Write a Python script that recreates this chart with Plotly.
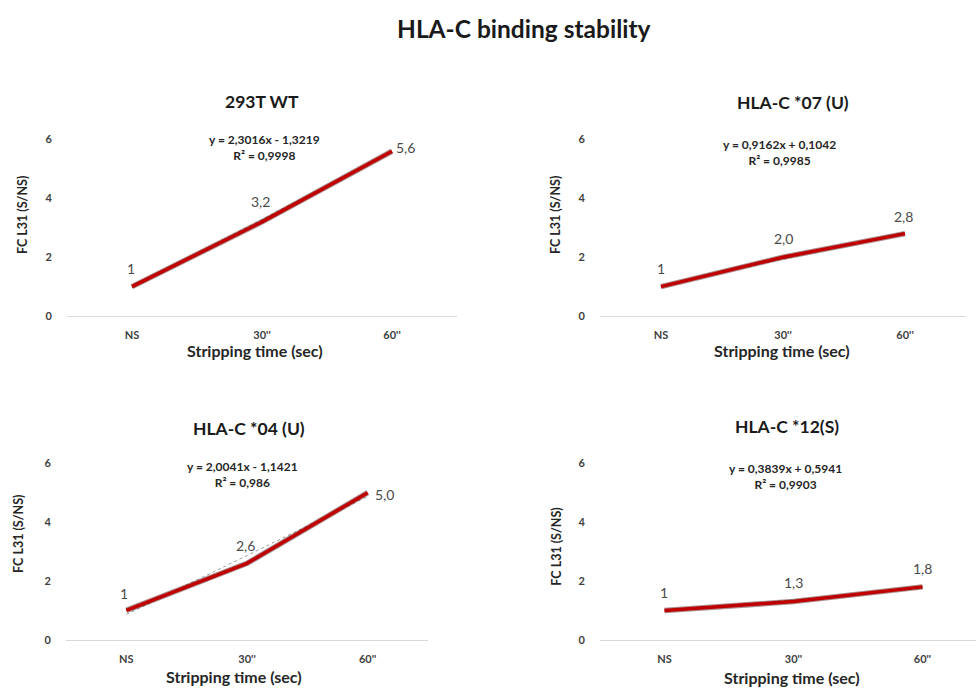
import plotly.graph_objects as go

W, H = 976, 691

categories = ["NS", "30''", "60''"]
panel_titles = ["293T WT", "HLA-C *07 (U)", "HLA-C *04 (U)", "HLA-C *12(S)"]
values_293T = [1, 3.2, 5.6]
values_c07 = [1, 2.0, 2.8]
values_c04 = [1, 2.6, 5.0]
values_c12 = [1, 1.3, 1.8]
labels_293T = ["1", "3,2", "5,6"]
labels_c07 = ["1", "2,0", "2,8"]
labels_c04 = ["1", "2,6", "5,0"]
labels_c12 = ["1", "1,3", "1,8"]
slopes = [2.3016, 0.9162, 2.0041, 0.3839]
intercepts = [-1.3219, 0.1042, -1.1421, 0.5941]
equations = ["y = 2,3016x - 1,3219", "y = 0,9162x + 0,1042",
             "y = 2,0041x - 1,1421", "y = 0,3839x + 0,5941"]
r2 = ["R² = 0,9998", "R² = 0,9985", "R² = 0,986", "R² = 0,9903"]
y_ticks = [0, 2, 4, 6]

series = [values_293T, values_c07, values_c04, values_c12]
labels = [labels_293T, labels_c07, labels_c04, labels_c12]

FONT = "Lato"
RED = "#C00000"
GRAY = "#4a4a4a"

# pixel layout per panel: x-left, x-right, y(0), y(6), x-range max
boxes = [
    (67, 457, 315, 135, 2.5),
    (600, 966, 315, 135, 2.5),
    (66, 428, 645, 465, 2.5),
    (600, 976, 645, 465, 2.415),
]
title_pos = [(262, 96), (793, 97), (249, 430), (787, 428)]
eq_pos = [(264, 143), (779, 148), (242, 476), (785, 478)]
xtitle_pos = [(255, 350), (782, 350), (234, 682), (792, 683)]
ytitle_pos = [(22, 212), (555, 212), (19, 537), (557, 550)]
# label offsets (xshift, yshift) in pixels
label_shift = [
    [(-1, 18), (-2, 20), (13, 4)],
    [(0, 18), (0, 19), (-2, 17)],
    [(-2, 17), (-2, 18), (17, -2)],
    [(0, 18), (0, 19), (0, 18)],
]

def px(x):
    return x / W

def py(y):
    return 1 - y / H

fig = go.Figure()
xi = list(range(len(categories)))

for k in range(4):
    xl, xr, y0, y6, xmax = boxes[k]
    sfx = "" if k == 0 else str(k + 1)
    xa = "x" + sfx
    ya = "y" + sfx
    trend = [slopes[k] * (i + 1) + intercepts[k] for i in xi]
    fig.add_trace(go.Scatter(
        x=xi, y=trend, mode="lines", xaxis=xa, yaxis=ya,
        line=dict(color="#9a9a9a", width=1, dash="dot"),
        showlegend=False, hoverinfo="skip"))
    fig.add_trace(go.Scatter(
        x=xi, y=series[k], mode="lines", xaxis=xa, yaxis=ya,
        line=dict(color="rgba(70,0,0,0.45)", width=5.5),
        showlegend=False, hoverinfo="skip", cliponaxis=False))
    fig.add_trace(go.Scatter(
        x=xi, y=series[k], mode="lines", xaxis=xa, yaxis=ya,
        line=dict(color=RED, width=3.5),
        showlegend=False, cliponaxis=False))
    for i in xi:
        dx, dy = label_shift[k][i]
        fig.add_annotation(x=i, y=series[k][i], xref=xa, yref=ya,
                           text=labels[k][i], showarrow=False,
                           xanchor="center", yanchor="middle",
                           xshift=dx, yshift=dy,
                           font=dict(family=FONT, size=14, color=GRAY))
    fig.layout["xaxis" + sfx] = dict(
        domain=[px(xl), px(xr)], anchor=ya, range=[-0.5, xmax],
        tickvals=xi, ticktext=categories, showgrid=False, zeroline=False,
        showline=True, linecolor="#d9d9d9", linewidth=1,
        tickfont=dict(family=FONT, size=11, color="#404040", weight="bold"),
        ticks="", ticklabelstandoff=9, fixedrange=True)
    fig.layout["yaxis" + sfx] = dict(
        domain=[py(y0), py(y6)], anchor=xa, range=[0, 6],
        tickvals=y_ticks, showgrid=False, zeroline=False, showline=False,
        tickfont=dict(family=FONT, size=11, color="#404040", weight="bold"),
        ticks="", ticklabelstandoff=14, fixedrange=True)
    tx, ty = title_pos[k]
    fig.add_annotation(x=px(tx), y=py(ty), xref="paper", yref="paper",
                       text="<b>%s</b>" % panel_titles[k], showarrow=False,
                       xanchor="center", yanchor="middle",
                       font=dict(family=FONT, size=17.5, color="#1a1a1a"))
    ex, ey = eq_pos[k]
    fig.add_annotation(x=px(ex), y=py(ey), xref="paper", yref="paper",
                       text="<b>%s</b><br><b>%s</b>" % (equations[k], r2[k]),
                       showarrow=False, xanchor="center", yanchor="middle",
                       font=dict(family=FONT, size=12, color="#262626"))
    qx, qy = ytitle_pos[k]
    fig.add_annotation(x=px(qx), y=py(qy), xref="paper", yref="paper",
                       text="<b>FC L31 (S/NS)</b>", showarrow=False, textangle=-90,
                       xanchor="center", yanchor="middle",
                       font=dict(family=FONT, size=12.5, color="#262626"))
    qx, qy = xtitle_pos[k]
    fig.add_annotation(x=px(qx), y=py(qy), xref="paper", yref="paper",
                       text="<b>Stripping time (sec)</b>", showarrow=False,
                       xanchor="center", yanchor="middle",
                       font=dict(family=FONT, size=16, color="#262626"))

fig.add_annotation(x=px(524), y=py(22), xref="paper", yref="paper",
                   text="<b>HLA-C binding stability</b>", showarrow=False,
                   xanchor="center", yanchor="middle",
                   font=dict(family=FONT, size=24.5, color="#1a1a1a"))

fig.update_layout(width=W, height=H, margin=dict(l=0, r=0, t=0, b=0),
                  paper_bgcolor="white", plot_bgcolor="white")
css = ("var s=document.createElement('style');"
       "s.innerHTML='html,body{margin:0!important;padding:0!important;overflow:hidden;}"
       ".plotly-graph-div{position:fixed!important;top:0;left:0;}';"
       "document.head.appendChild(s);")
fig.write_html("out.html", post_script=css, config={"displayModeBar": False})
